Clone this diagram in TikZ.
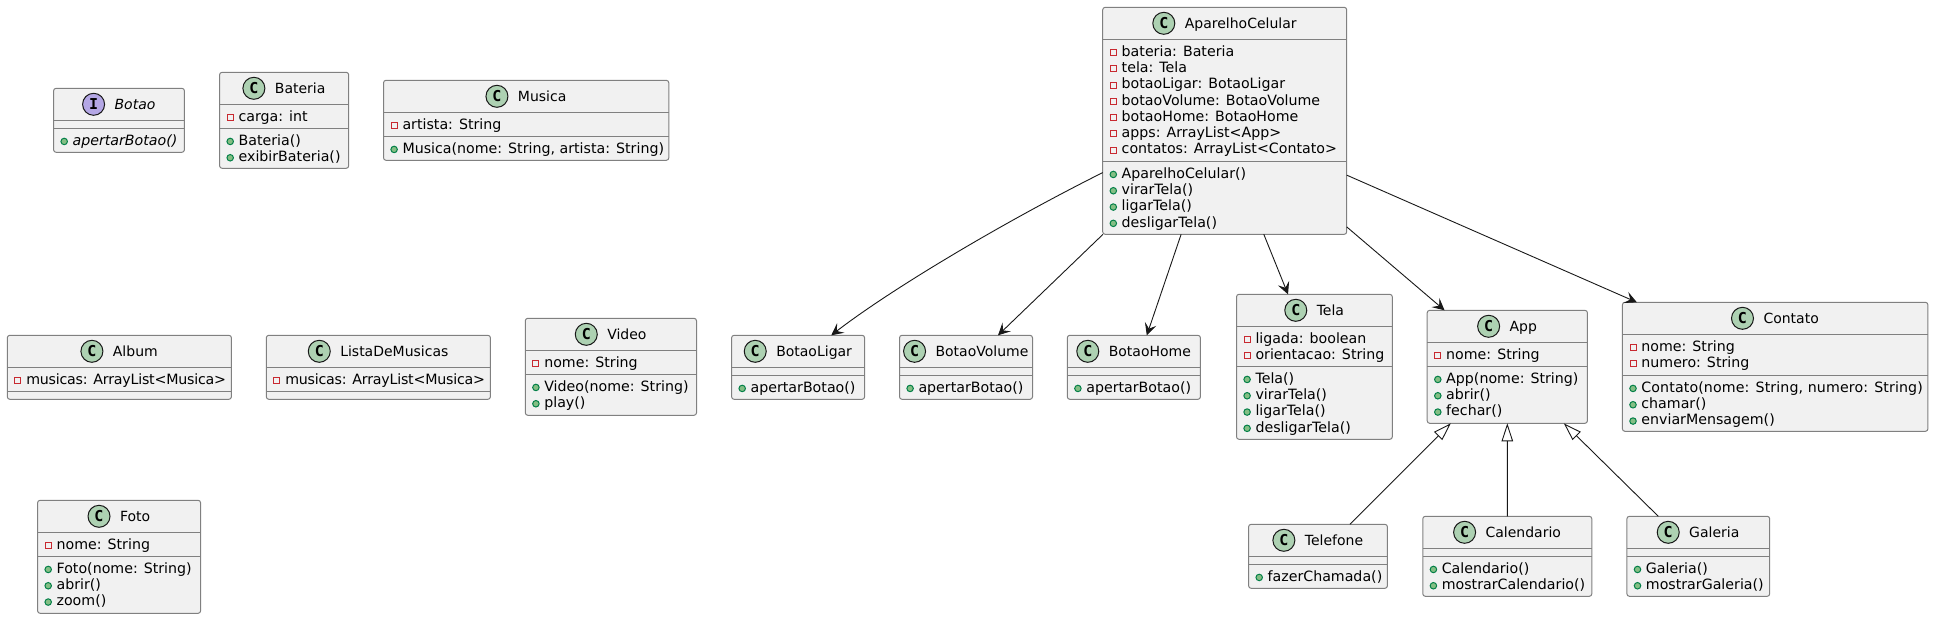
\documentclass[tikz,border=0pt]{standalone}
\usepackage{fontspec}
\setmainfont{DejaVu Sans}
\newfontfamily\iconfont{DejaVu Sans Mono}
\usetikzlibrary{positioning}
\usetikzlibrary{arrows.meta}

\definecolor{boxfill}{HTML}{F1F1F1}
\definecolor{boxline}{HTML}{808080}
\definecolor{ink}{HTML}{181818}
\definecolor{iconclass}{HTML}{ADD1B2}
\definecolor{iconiface}{HTML}{B4A7E5}
\definecolor{pubfill}{HTML}{84BE84}
\definecolor{publine}{HTML}{038048}
\definecolor{privline}{HTML}{C82930}

\tikzset{
  classbox/.style={draw=boxline,fill=boxfill,line width=1pt,rounded corners=2.5pt,inner sep=0pt,outer sep=0pt},
  sepline/.style={draw=boxline,line width=1pt},
  classtext/.style={inner sep=0pt,outer sep=0pt,text=black,text height=12pt,text depth=2.6pt},
  classtitle/.style={classtext,font=\fontsize{14}{16}\selectfont},
  member/.style={classtext,anchor=west,font=\fontsize{14.2}{16}\selectfont},
  icon/.style={circle,draw=ink,line width=1pt,minimum size=22pt,inner sep=0pt,outer sep=0pt,text=black,font=\iconfont\bfseries\fontsize{15}{15}\selectfont},
  privmark/.style={rectangle,draw=privline,fill=boxfill,line width=1pt,minimum size=6pt,inner sep=0pt,outer sep=0pt},
  pubmark/.style={circle,draw=publine,fill=pubfill,line width=1pt,minimum size=6.5pt,inner sep=0pt,outer sep=0pt},
  dep/.style={draw=ink,line width=0.9pt,-{Stealth[length=12pt,width=12pt,inset=5pt]}},
  gen/.style={draw=ink,line width=0.9pt,-{Triangle[open,length=18pt,width=11.5pt]}}
}

% name, left, top, right, bottom, title, icon letter, icon colour
\newcommand{\classnode}[8]{
  \pgfmathsetmacro\boxw{#4-#2}
  \pgfmathsetmacro\boxh{#5-#3}
  \pgfmathsetmacro\titley{#3+16}
  \node[classbox,minimum width=\boxw pt,minimum height=\boxh pt] (#1) at ({(#2+#4)/2},{(#3+#5)/2}) {};
  \node[classtitle,xshift=16pt] (#1-title) at (#1.center |- 0,\titley) {#6};
  \node[icon,fill=#8,left=10pt of #1-title] (#1-icon) {#7};
}
% name, y of the line, privmark or pubmark, rows
\newcommand{\classrows}[4]{
  \draw[sepline] (#1.west |- 0,#2) -- (#1.east |- 0,#2);
  \foreach \txt [count=\k] in {#4} {
    \pgfmathsetmacro\rowy{#2+4+8.15+16.3*(\k-1)}
    \node[member,xshift=19pt] (#1-#3\k-text) at (#1.west |- 0,\rowy) {\txt};
    \node[#3,xshift=10.6pt,yshift=-1pt] (#1-#3\k) at (#1.west |- 0,\rowy) {};
  }
}

\begin{document}
\begin{tikzpicture}[x=1pt,y=-1pt]
  \useasboundingbox (0,0) rectangle (1933,619);

  \classnode{Botao}{53.6}{88.3}{184.4}{152.3}{\itshape Botao}{I}{iconiface}
  \classrows{Botao}{120.3}{privmark}{}
  \classrows{Botao}{128.3}{pubmark}{{\itshape apertarBotao()}}

  \classnode{Bateria}{219.6}{72.3}{348.7}{168.3}{Bateria}{C}{iconclass}
  \classrows{Bateria}{104.3}{privmark}{carga: int}
  \classrows{Bateria}{128.3}{pubmark}{Bateria(),exibirBateria()}

  \classnode{Musica}{383.5}{80.3}{668.8}{160.3}{Musica}{C}{iconclass}
  \classrows{Musica}{112.3}{privmark}{artista: String}
  \classrows{Musica}{136.3}{pubmark}{{Musica(nome: String, artista: String)}}

  \classnode{AparelhoCelular}{1102.7}{7.3}{1346.7}{234.3}{AparelhoCelular}{C}{iconclass}
  \classrows{AparelhoCelular}{39.3}{privmark}{bateria: Bateria,tela: Tela,botaoLigar: BotaoLigar,botaoVolume: BotaoVolume,botaoHome: BotaoHome,apps: ArrayList<App>,contatos: ArrayList<Contato>}
  \classrows{AparelhoCelular}{161.3}{pubmark}{AparelhoCelular(),virarTela(),ligarTela(),desligarTela()}

  \classnode{Album}{7.3}{335.3}{231.4}{399.3}{Album}{C}{iconclass}
  \classrows{Album}{367.3}{privmark}{{\addfontfeature{LetterSpace=-1.5}musicas: ArrayList<Musica>}}
  \classrows{Album}{391.3}{pubmark}{}

  \classnode{ListaDeMusicas}{266.3}{335.3}{490.4}{399.3}{ListaDeMusicas}{C}{iconclass}
  \classrows{ListaDeMusicas}{367.3}{privmark}{{\addfontfeature{LetterSpace=-1.5}musicas: ArrayList<Musica>}}
  \classrows{ListaDeMusicas}{391.3}{pubmark}{}

  \classnode{Video}{525.3}{318.3}{696.5}{415.3}{Video}{C}{iconclass}
  \classrows{Video}{350.3}{privmark}{nome: String}
  \classrows{Video}{374.3}{pubmark}{{Video(nome: String)},play()}

  \classnode{Foto}{37.6}{500.3}{200.6}{613.3}{Foto}{C}{iconclass}
  \classrows{Foto}{532.3}{privmark}{nome: String}
  \classrows{Foto}{556.3}{pubmark}{{Foto(nome: String)},abrir(),zoom()}

  \classnode{BotaoLigar}{731.6}{335.3}{864.6}{399.3}{BotaoLigar}{C}{iconclass}
  \classrows{BotaoLigar}{367.3}{privmark}{}
  \classrows{BotaoLigar}{375.3}{pubmark}{apertarBotao()}

  \classnode{BotaoVolume}{899.5}{335.3}{1032.5}{399.3}{BotaoVolume}{C}{iconclass}
  \classrows{BotaoVolume}{367.3}{privmark}{}
  \classrows{BotaoVolume}{375.3}{pubmark}{apertarBotao()}

  \classnode{BotaoHome}{1067.3}{335.3}{1200.4}{399.3}{BotaoHome}{C}{iconclass}
  \classrows{BotaoHome}{367.3}{privmark}{}
  \classrows{BotaoHome}{375.3}{pubmark}{apertarBotao()}

  \classnode{Tela}{1236.5}{294.3}{1392.3}{439.3}{Tela}{C}{iconclass}
  \classrows{Tela}{326.3}{privmark}{ligada: boolean,orientacao: String}
  \classrows{Tela}{366.3}{pubmark}{Tela(),virarTela(),ligarTela(),desligarTela()}

  \classnode{App}{1427.2}{310.3}{1587.4}{423.3}{App}{C}{iconclass}
  \classrows{App}{342.3}{privmark}{nome: String}
  \classrows{App}{366.3}{pubmark}{{App(nome: String)},abrir(),fechar()}

  \classnode{Contato}{1622.4}{302.3}{1927.9}{431.3}{Contato}{C}{iconclass}
  \classrows{Contato}{334.3}{privmark}{nome: String,numero: String}
  \classrows{Contato}{375.3}{pubmark}{{\addfontfeature{LetterSpace=0.8}Contato(nome: String, numero: String)},chamar(),enviarMensagem()}

  \classnode{Telefone}{1248.6}{524.3}{1387.4}{588.3}{Telefone}{C}{iconclass}
  \classrows{Telefone}{556.3}{privmark}{}
  \classrows{Telefone}{564.3}{pubmark}{fazerChamada()}

  \classnode{Calendario}{1422.8}{516.3}{1591.8}{596.3}{Calendario}{C}{iconclass}
  \classrows{Calendario}{548.3}{privmark}{}
  \classrows{Calendario}{556.3}{pubmark}{Calendario(),mostrarCalendario()}

  \classnode{Galeria}{1626.9}{516.3}{1769.7}{596.3}{Galeria}{C}{iconclass}
  \classrows{Galeria}{548.3}{privmark}{}
  \classrows{Galeria}{556.3}{pubmark}{Galeria(),mostrarGaleria()}

  \draw[dep] (AparelhoCelular.203.6) .. controls (1000,224) and (890,290) .. (BotaoLigar.44.8);
  \path
    (AparelhoCelular.223.7) edge[dep] (BotaoVolume.45)
    (AparelhoCelular.249.7) edge[dep] (BotaoHome.68.7)
    (AparelhoCelular.289.7) edge[dep] (Tela.110.7)
    (AparelhoCelular.-41) edge[dep] (App.138.9)
    (AparelhoCelular.-24) edge[dep] (Contato.155.7);
  \path
    (Telefone.45.4) edge[gen] (App.225.1)
    (Calendario.north) edge[gen] (App.south)
    (Galeria.135.3) edge[gen] (App.-45.4);
\end{tikzpicture}
\end{document}
